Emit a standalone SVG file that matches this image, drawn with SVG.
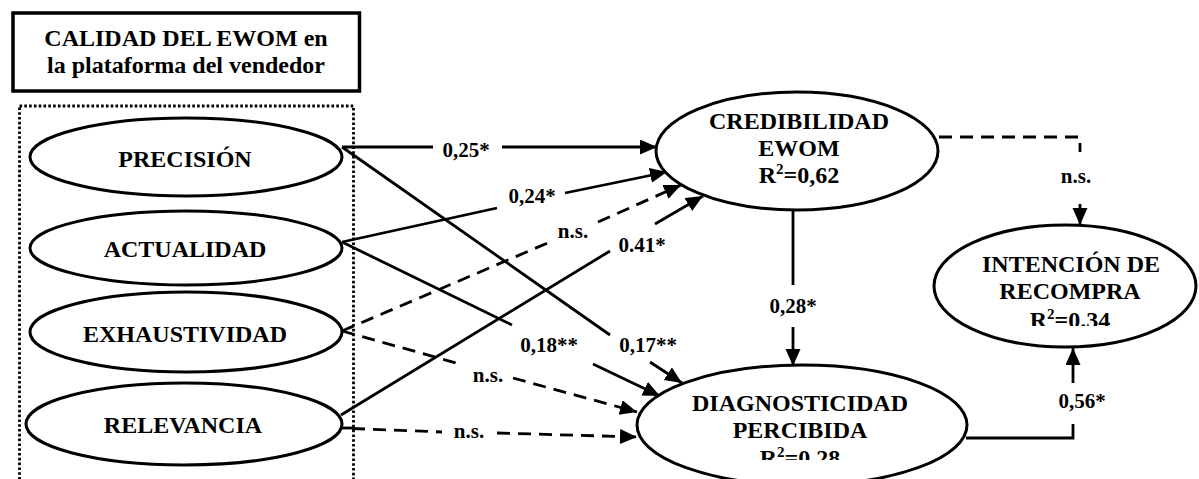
<svg xmlns="http://www.w3.org/2000/svg" width="1199" height="479" viewBox="0 0 1199 479">
  <style>
    .node { fill: #fff; stroke: #000; stroke-width: 3; }
    .t { font-family: "Liberation Serif", "Times New Roman", serif; font-weight: bold; font-size: 24px; fill: #000; text-anchor: middle; }
    .lbl { font-family: "Liberation Serif", "Times New Roman", serif; font-weight: bold; font-size: 21px; fill: #000; text-anchor: middle; }
    .sup { font-size: 15px; }
    .edge { fill: none; stroke: #000; stroke-width: 2.8; }
    .dash { stroke-dasharray: 13 8; }
  </style>
  <defs>
    <marker id="arrow" markerUnits="userSpaceOnUse" markerWidth="18" markerHeight="16" refX="17" refY="7.5" orient="auto">
      <path d="M0,0 L17,7.5 L0,15 z" fill="#000"/>
    </marker>
    <clipPath id="clipIntencion"><rect x="900" y="200" width="299" height="126"/></clipPath>
    <clipPath id="clipDiag"><rect x="600" y="340" width="400" height="120"/></clipPath>
  </defs>

  <!-- Heading box -->
  <g id="titulo">
    <rect x="13" y="13" width="346.5" height="78" fill="#fff" stroke="#000" stroke-width="3.5"/>
    <text class="t" x="186" y="46">CALIDAD DEL EWOM en</text>
    <text class="t" x="186" y="73">la plataforma del vendedor</text>
  </g>

  <!-- Dotted grouping frame -->
  <g id="grupo-calidad">
    <rect x="19.5" y="106" width="334" height="400" fill="none" stroke="#000" stroke-width="2.8" stroke-dasharray="2.6 2.2"/>
  </g>

  <!-- Connectors -->
  <g id="connectors">
    <!-- PRECISIÓN -> CREDIBILIDAD -->
    <line class="edge" x1="342" y1="147" x2="433" y2="147"/>
    <line class="edge" x1="502" y1="147" x2="657" y2="147" marker-end="url(#arrow)"/>
    <text class="lbl" x="466" y="157">0,25*</text>

    <!-- ACTUALIDAD -> CREDIBILIDAD -->
    <line class="edge" x1="342" y1="242" x2="497" y2="208"/>
    <line class="edge" x1="565" y1="193" x2="667" y2="172" marker-end="url(#arrow)"/>
    <text class="lbl" x="532" y="203">0,24*</text>

    <!-- EXHAUSTIVIDAD -> CREDIBILIDAD (n.s.) -->
    <line class="edge dash" x1="342" y1="331" x2="550" y2="242"/>
    <line class="edge dash" x1="598" y1="222" x2="681" y2="185" marker-end="url(#arrow)"/>
    <text class="lbl" x="573" y="238">n.s.</text>

    <!-- RELEVANCIA -> CREDIBILIDAD -->
    <line class="edge" x1="341" y1="415" x2="610" y2="251"/>
    <line class="edge" x1="655" y1="224" x2="703" y2="196" marker-end="url(#arrow)"/>
    <text class="lbl" x="642" y="252">0.41*</text>

    <!-- PRECISIÓN -> DIAGNOSTICIDAD -->
    <line class="edge" x1="342" y1="147" x2="610" y2="335"/>
    <line class="edge" x1="650" y1="362" x2="682" y2="383" marker-end="url(#arrow)"/>
    <text class="lbl" x="648" y="352">0,17**</text>

    <!-- ACTUALIDAD -> DIAGNOSTICIDAD -->
    <line class="edge" x1="342" y1="242" x2="512" y2="325"/>
    <line class="edge" x1="593" y1="364" x2="660" y2="396" marker-end="url(#arrow)"/>
    <text class="lbl" x="549" y="352">0,18**</text>

    <!-- EXHAUSTIVIDAD -> DIAGNOSTICIDAD (n.s.) -->
    <line class="edge dash" x1="342" y1="331" x2="460" y2="364"/>
    <line class="edge dash" x1="513" y1="378" x2="637" y2="412" marker-end="url(#arrow)"/>
    <text class="lbl" x="488" y="382">n.s.</text>

    <!-- RELEVANCIA -> DIAGNOSTICIDAD (n.s.) -->
    <line class="edge" x1="342" y1="428" x2="352" y2="428"/>
    <line class="edge dash" x1="352" y1="428.5" x2="442" y2="432"/>
    <line class="edge dash" x1="497" y1="433" x2="637" y2="437" marker-end="url(#arrow)"/>
    <text class="lbl" x="469" y="438">n.s.</text>

    <!-- CREDIBILIDAD -> DIAGNOSTICIDAD -->
    <line class="edge" x1="793" y1="210" x2="793" y2="285"/>
    <line class="edge" x1="793" y1="327" x2="793" y2="366" marker-end="url(#arrow)"/>
    <text class="lbl" x="793" y="313">0,28*</text>

    <!-- CREDIBILIDAD -> INTENCIÓN (n.s.) -->
    <polyline class="edge dash" points="939,137 1080,137 1080,152"/>
    <line class="edge" x1="1080" y1="204" x2="1080" y2="225" marker-end="url(#arrow)"/>
    <text class="lbl" x="1076" y="183">n.s.</text>

    <!-- DIAGNOSTICIDAD -> INTENCIÓN -->
    <polyline class="edge" points="966,438 1073,438 1073,424"/>
    <line class="edge" x1="1073" y1="383" x2="1073" y2="348" marker-end="url(#arrow)"/>
    <text class="lbl" x="1082" y="408">0,56*</text>
  </g>

  <!-- Quality dimensions -->
  <g id="precision">
    <ellipse class="node" cx="186" cy="157" rx="156" ry="39"/>
    <text class="t" x="185" y="167">PRECISIÓN</text>
  </g>
  <g id="actualidad">
    <ellipse class="node" cx="186" cy="248" rx="156" ry="37"/>
    <text class="t" x="185" y="257">ACTUALIDAD</text>
  </g>
  <g id="exhaustividad">
    <ellipse class="node" cx="186" cy="332" rx="156" ry="40"/>
    <text class="t" x="185" y="342">EXHAUSTIVIDAD</text>
  </g>
  <g id="relevancia">
    <ellipse class="node" cx="184" cy="424" rx="158" ry="41"/>
    <text class="t" x="183" y="433">RELEVANCIA</text>
  </g>

  <!-- Outcome constructs -->
  <g id="credibilidad">
    <ellipse class="node" cx="797" cy="151" rx="141" ry="59"/>
    <text class="t" x="799" y="129">CREDIBILIDAD</text>
    <text class="t" x="799" y="156">EWOM</text>
    <text class="t" x="799" y="183">R<tspan class="sup" dy="-9">2</tspan><tspan dy="9">=0,62</tspan></text>
  </g>
  <g id="diagnosticidad">
    <ellipse class="node" cx="802" cy="425" rx="165" ry="60"/>
    <text class="t" x="800" y="411">DIAGNOSTICIDAD</text>
    <text class="t" x="800" y="438">PERCIBIDA</text>
    <text class="t" x="800" y="466" clip-path="url(#clipDiag)">R<tspan class="sup" dy="-9">2</tspan><tspan dy="9">=0,28</tspan></text>
  </g>
  <g id="intencion">
    <ellipse class="node" cx="1065" cy="286" rx="131" ry="61"/>
    <text class="t" x="1071" y="272">INTENCIÓN DE</text>
    <text class="t" x="1070" y="299">RECOMPRA</text>
    <text class="t" x="1070" y="328" clip-path="url(#clipIntencion)">R<tspan class="sup" dy="-9">2</tspan><tspan dy="9">=0.34</tspan></text>
  </g>
</svg>
